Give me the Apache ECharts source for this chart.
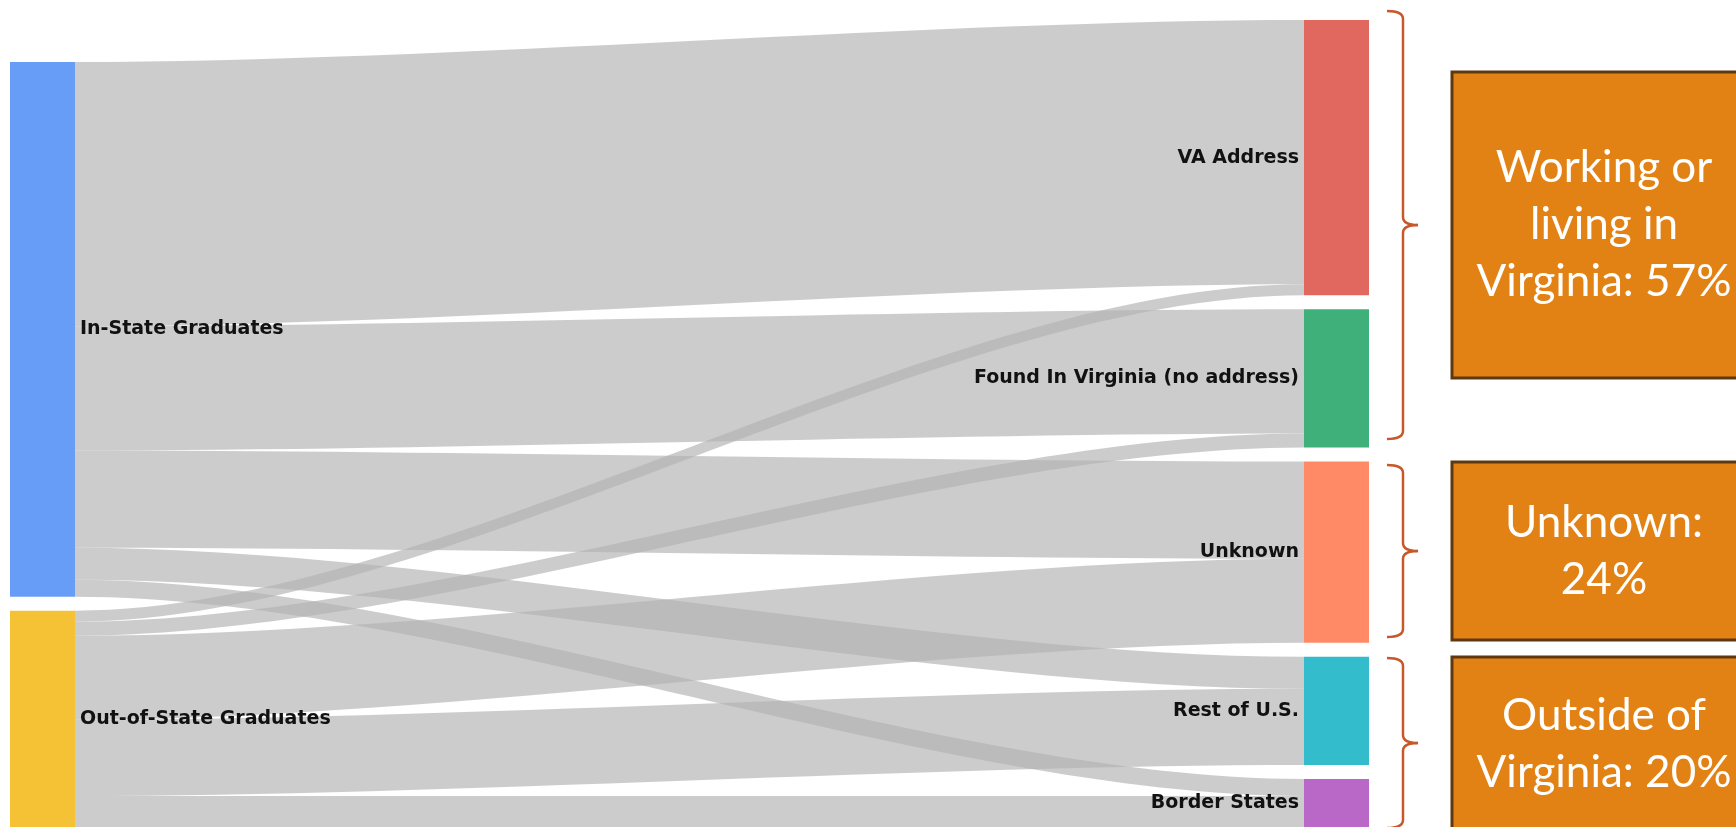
<!DOCTYPE html>
<html>
<head>
<meta charset="utf-8">
<script src="https://cdn.jsdelivr.net/npm/echarts@6/dist/echarts.min.js"></script>
<style>
  html, body { margin: 0; padding: 0; background: #ffffff; }
  #chart { width: 1736px; height: 827px; }
</style>
</head>
<body>
<div id="chart"></div>
<script>
// ---- data ----
const sources = ['In-State Graduates', 'Out-of-State Graduates'];
const destinations = ['VA Address', 'Found In Virginia (no address)', 'Unknown', 'Rest of U.S.', 'Border States'];
const inStateFlows = [264, 124, 97, 32, 17];
const outOfStateFlows = [11, 14, 84, 76, 31];
const sourceColors = ['#679DF6', '#F5C235'];
const destinationColors = ['#E1685E', '#3FB07A', '#FF8A65', '#33BDCC', '#BA68C8'];
const summaryTexts = ['Working or\nliving in\nVirginia: 57%', 'Unknown:\n24%', 'Outside of\nVirginia: 20%'];

// ---- build sankey data ----
const nodes = [];
sources.forEach((n, i) => nodes.push({ name: n, itemStyle: { color: sourceColors[i] } }));
destinations.forEach((n, i) => nodes.push({ name: n, itemStyle: { color: destinationColors[i] } }));
const links = [];
[inStateFlows, outOfStateFlows].forEach((flows, si) => {
  flows.forEach((v, di) => links.push({ source: sources[si], target: destinations[di], value: v }));
});

// ---- annotation helpers ----
const braceColor = '#C8582B';
const braceStyle = { fill: null, stroke: braceColor, lineWidth: 2.5 };
function brace(x0, xv, xt, top, mid, bottom) {
  const r = 8;
  const parts = [
    { type: 'bezierCurve', shape: { x1: x0, y1: top, cpx1: xv, cpy1: top, x2: xv, y2: top + r } },
    { type: 'line', shape: { x1: xv, y1: top + r, x2: xv, y2: mid - r } },
    { type: 'bezierCurve', shape: { x1: xv, y1: mid - r, cpx1: xv, cpy1: mid, x2: xt, y2: mid } },
    { type: 'bezierCurve', shape: { x1: xt, y1: mid, cpx1: xv, cpy1: mid, x2: xv, y2: mid + r } },
    { type: 'line', shape: { x1: xv, y1: mid + r, x2: xv, y2: bottom - r } },
    { type: 'bezierCurve', shape: { x1: xv, y1: bottom - r, cpx1: xv, cpy1: bottom, x2: x0, y2: bottom } }
  ];
  parts.forEach(p => { p.style = braceStyle; p.silent = true; });
  return { type: 'group', silent: true, children: parts };
}
const braces = [[11, 225, 439], [465, 551, 637], [658, 743, 828]];
const boxes = [[72, 378], [462, 640], [657, 831]];
const graphics = [];
braces.forEach(b => graphics.push(brace(1387, 1403, 1418, b[0], b[1], b[2])));
boxes.forEach((b, i) => {
  graphics.push({
    type: 'rect', silent: true,
    shape: { x: 1452, y: b[0], width: 320, height: b[1] - b[0] },
    style: { fill: '#E38214', stroke: '#5E3810', lineWidth: 3 }
  });
  graphics.push({
    type: 'text', silent: true,
    x: 1604, y: (b[0] + b[1]) / 2,
    style: {
      text: summaryTexts[i],
      fill: '#ffffff',
      font: '44px Lato',
      lineHeight: 57,
      align: 'center',
      verticalAlign: 'middle'
    }
  });
});

const chart = echarts.init(document.getElementById('chart'), null, { renderer: 'canvas' });
chart.setOption({
  animation: false,
  backgroundColor: '#ffffff',
  graphic: graphics,
  series: [{
    type: 'sankey',
    left: 10,
    right: 367,
    top: 20,
    bottom: 0,
    nodeWidth: 65,
    nodeGap: 14,
    nodeAlign: 'justify',
    draggable: false,
    emphasis: { disabled: true },
    data: nodes,
    links: links,
    itemStyle: { borderWidth: 0 },
    lineStyle: { color: '#b3b3b3', opacity: 0.67, curveness: 0.3 },
    label: {
      color: '#111111',
      fontFamily: 'DejaVu Sans',
      fontWeight: 'bold',
      fontSize: 19,
      distance: 5
    },
    levels: [
      { depth: 0, label: { position: 'right' } },
      { depth: 1, label: { position: 'left' } }
    ]
  }]
});
</script>
</body>
</html>
